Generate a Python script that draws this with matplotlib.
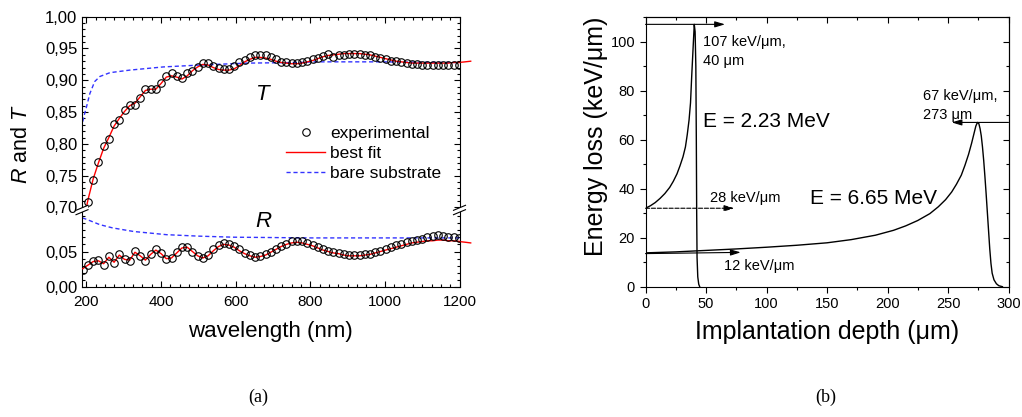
import numpy as np
import matplotlib
matplotlib.use("Agg")
import matplotlib.pyplot as plt
from matplotlib.ticker import MultipleLocator, FixedLocator, FuncFormatter
from matplotlib.lines import Line2D
from matplotlib.patches import Polygon

plt.rcParams['font.family'] = ['Liberation Sans', 'DejaVu Sans']
plt.rcParams['mathtext.fontset'] = 'custom'
plt.rcParams['mathtext.rm'] = 'Liberation Sans'
plt.rcParams['mathtext.it'] = 'Liberation Sans:italic'

# ---------------- data: panel (a) ----------------
wavelength = [190, 204, 218, 232, 246, 260, 274, 288, 302, 316, 330, 344, 358, 372,
              386, 400, 414, 428, 442, 456, 470, 484, 498, 512, 526, 540, 554, 568,
              582, 596, 610, 624, 638, 652, 666, 680, 694, 708, 722, 736, 750, 764,
              778, 792, 806, 820, 834, 848, 862, 876, 890, 904, 918, 932, 946, 960,
              974, 988, 1002, 1016, 1030, 1044, 1058, 1072, 1086, 1100, 1114, 1128,
              1142, 1156, 1170, 1184, 1198]
T_exp = [0.660, 0.708, 0.743, 0.771, 0.796, 0.808, 0.832, 0.838, 0.853, 0.861, 0.861,
         0.872, 0.887, 0.887, 0.887, 0.896, 0.907, 0.911, 0.907, 0.904, 0.911, 0.915,
         0.921, 0.927, 0.927, 0.922, 0.919, 0.917, 0.917, 0.922, 0.928, 0.932, 0.937,
         0.939, 0.939, 0.939, 0.936, 0.933, 0.929, 0.928, 0.927, 0.927, 0.928, 0.930,
         0.933, 0.935, 0.938, 0.941, 0.936, 0.939, 0.940, 0.941, 0.941, 0.941, 0.940,
         0.939, 0.937, 0.935, 0.933, 0.931, 0.930, 0.928, 0.927, 0.926, 0.925, 0.924,
         0.924, 0.924, 0.924, 0.924, 0.924, 0.924, 0.924]
R_exp = [0.024, 0.031, 0.037, 0.038, 0.031, 0.044, 0.034, 0.046, 0.039, 0.037, 0.051,
         0.044, 0.037, 0.047, 0.054, 0.048, 0.040, 0.041, 0.049, 0.057, 0.057, 0.050,
         0.044, 0.041, 0.045, 0.053, 0.059, 0.062, 0.061, 0.058, 0.053, 0.048, 0.045,
         0.043, 0.044, 0.046, 0.050, 0.054, 0.058, 0.061, 0.064, 0.065, 0.064, 0.062,
         0.059, 0.056, 0.053, 0.051, 0.050, 0.048, 0.047, 0.045, 0.045, 0.045, 0.046,
         0.047, 0.049, 0.051, 0.053, 0.056, 0.059, 0.061, 0.063, 0.064, 0.066, 0.067,
         0.070, 0.071, 0.073, 0.071, 0.070, 0.070, 0.069]

fit_wavelength = wavelength + [1215, 1230]
T_fit = [0.672, 0.712, 0.745, 0.770, 0.793, 0.810, 0.828, 0.840, 0.851, 0.860, 0.864,
         0.874, 0.884, 0.886, 0.886, 0.895, 0.905, 0.907, 0.905, 0.902, 0.907, 0.915,
         0.921, 0.925, 0.924, 0.920, 0.917, 0.916, 0.916, 0.918, 0.923, 0.929, 0.933,
         0.936, 0.936, 0.935, 0.933, 0.930, 0.928, 0.927, 0.926, 0.926, 0.927, 0.929,
         0.931, 0.934, 0.937, 0.939, 0.940, 0.941, 0.942, 0.942, 0.942, 0.942, 0.941,
         0.940, 0.938, 0.936, 0.934, 0.932, 0.930, 0.929, 0.928, 0.927, 0.927, 0.927,
         0.927, 0.927, 0.927, 0.927, 0.927, 0.928, 0.928, 0.929, 0.930]
R_fit = [0.026, 0.031, 0.036, 0.037, 0.033, 0.042, 0.035, 0.045, 0.039, 0.038, 0.049,
         0.044, 0.038, 0.046, 0.052, 0.047, 0.040, 0.041, 0.048, 0.055, 0.056, 0.050,
         0.044, 0.041, 0.044, 0.051, 0.057, 0.060, 0.059, 0.056, 0.051, 0.047, 0.044,
         0.042, 0.043, 0.045, 0.049, 0.053, 0.057, 0.060, 0.062, 0.063, 0.062, 0.060,
         0.058, 0.055, 0.052, 0.050, 0.048, 0.047, 0.045, 0.044, 0.044, 0.044, 0.045,
         0.046, 0.048, 0.050, 0.052, 0.054, 0.056, 0.058, 0.060, 0.062, 0.063, 0.064,
         0.065, 0.065, 0.066, 0.066, 0.065, 0.065, 0.064, 0.063, 0.062]

bare_T_wavelength = [190, 193, 200, 209, 222, 236, 263, 316, 406, 505, 630, 773, 809,
                     988, 1167, 1200]
bare_T = [0.835, 0.843, 0.858, 0.879, 0.898, 0.906, 0.912, 0.916, 0.921, 0.924, 0.927,
          0.928, 0.929, 0.929, 0.928, 0.928]
bare_R_wavelength = [189, 200, 236, 270, 326, 415, 500, 594, 700, 800, 900, 1000, 1100,
                     1200]
bare_R = [0.097, 0.095, 0.0875, 0.083, 0.078, 0.0735, 0.0715, 0.070, 0.0695, 0.069,
          0.069, 0.069, 0.069, 0.069]

# ---------------- data: panel (b) ----------------
depth_223 = [0, 4, 8, 12, 16, 20, 23, 26, 28.5, 31, 33, 34.5, 36, 37.2, 38.2, 39.3,
             40.3, 41.0, 41.6, 42.0, 42.3, 42.6, 43.2, 44.0, 44.8]
loss_223 = [32, 33, 34.3, 36, 38, 40.5, 43, 46, 49.3, 53, 57, 62, 68, 75, 86, 97,
            107, 104, 90, 60, 30, 12, 4, 1, 0]
depth_665 = [0, 25, 50, 75, 100, 125, 150, 170, 190, 205, 215, 225, 235, 242, 248, 253,
             257, 261, 264, 267, 269.5, 271.5, 273, 274.3, 275.5, 276.5, 277.5, 278.5,
             279.5, 280.5, 281.5, 282.5, 283.5, 284.5, 285.5, 286.5, 288, 290, 292, 295]
loss_665 = [13.8, 14.2, 14.8, 15.4, 16.1, 16.9, 17.9, 19.2, 21, 23, 24.8, 27, 29.8,
            32.6, 35.5, 38.6, 41.8, 45.5, 49.5, 54, 58.5, 62.5, 65.5, 67, 66.5, 64.5,
            61.5, 57, 51.5, 45, 38, 30.5, 23, 15.5, 9.5, 5.5, 2.8, 1.2, 0.4, 0]

W, H = 1022, 417
fig = plt.figure(figsize=(W / 100, H / 100), dpi=100)


def fx(px):
    return px / W


def fy(py):
    return 1 - py / H


# axes geometry (pixels, from top-left)
L0, L1 = 82, 459.5
top_y0, brk_y, bot_y1 = 16.7, 210, 287.3
axT = fig.add_axes([fx(L0), fy(brk_y), fx(L1) - fx(L0), fy(top_y0) - fy(brk_y)])
axB = fig.add_axes([fx(L0), fy(bot_y1), fx(L1) - fx(L0), fy(brk_y) - fy(bot_y1)])

wl = np.array(wavelength)
fwl = np.array(fit_wavelength)
Tf = np.array(T_fit)
Rf = np.array(R_fit)

for ax in (axT, axB):
    ax.plot(bare_T_wavelength if ax is axT else bare_R_wavelength,
            bare_T if ax is axT else bare_R,
            color='#3333ff', lw=1.0, ls=(0, (3, 2)), zorder=2)
    ax.plot(fwl, Tf if ax is axT else Rf, color='#ff0000', lw=1.0, zorder=3)
    ext = fwl >= 1198
    ax.plot(fwl[ext], (Tf if ax is axT else Rf)[ext], color='#ff0000', lw=1.0,
            zorder=3, clip_on=False)
    ax.plot(wl, T_exp if ax is axT else R_exp, ls='none', marker='o', ms=5.4,
            mfc='none', mec='black', mew=0.8, zorder=4)
    ax.set_xlim(188, 1200)
    ax.xaxis.set_major_locator(MultipleLocator(200))
    ax.xaxis.set_minor_locator(MultipleLocator(25))
    ax.tick_params(which='both', direction='in', left=True, right=True,
                   labelsize=12, width=0.8, pad=3.4)
    ax.tick_params(which='major', length=4)
    ax.tick_params(which='minor', length=2)
    for s in ax.spines.values():
        s.set_linewidth(0.8)

axT.set_ylim(0.696, 1.0)
axT.yaxis.set_major_locator(MultipleLocator(0.05))
axT.yaxis.set_minor_locator(MultipleLocator(0.01))
axT.spines['bottom'].set_visible(False)
axT.tick_params(axis='x', which='both', bottom=False, top=True, labelbottom=False)

axB.set_ylim(0.0, 0.108)
axB.yaxis.set_major_locator(FixedLocator([0.0, 0.05]))
axB.yaxis.set_minor_locator(MultipleLocator(0.01))
axB.spines['top'].set_visible(False)
axB.tick_params(axis='x', which='both', bottom=True, top=False, labelsize=11, pad=5.5)

comma = FuncFormatter(lambda v, p: f"{v:.2f}".replace('.', ','))
axT.yaxis.set_major_formatter(comma)
axB.yaxis.set_major_formatter(comma)

axT.text(674, 0.877, 'T', fontsize=16, style='italic', ha='center', va='center')
axB.text(674, 0.092, 'R', fontsize=16, style='italic', ha='center', va='center')

handles = [Line2D([], [], ls='none', marker='o', ms=5.4, mfc='none', mec='black', mew=0.8),
           Line2D([], [], color='#ff0000', lw=1.0),
           Line2D([], [], color='#3333ff', lw=1.0, ls=(0, (3, 2)))]
axT.legend(handles, ['experimental', 'best fit', 'bare substrate'], loc='upper left',
           bbox_to_anchor=((286 - L0) / (L1 - L0), 1 - (126 - top_y0) / (brk_y - top_y0)),
           frameon=False, fontsize=12.5, borderpad=0, borderaxespad=0,
           handlelength=2.25, handletextpad=0.3, labelspacing=0.27, numpoints=1)

# break marks
for bx in (L0, L1):
    for dy in (-2.2, 2.2):
        y = brk_y + dy
        fig.add_artist(Line2D([fx(bx - 6), fx(bx + 6)], [fy(y + 2.5), fy(y - 2.5)],
                              color='black', lw=0.8))
    fig.add_artist(Polygon([[fx(bx - 6), fy(brk_y - 2.2 + 2.5)], [fx(bx + 6), fy(brk_y - 2.2 - 2.5)],
                            [fx(bx + 6), fy(brk_y + 2.2 - 2.5)], [fx(bx - 6), fy(brk_y + 2.2 + 2.5)]],
                           closed=True, facecolor='white', edgecolor='none', zorder=0.5))

fig.text(fx(21.7), fy(144), r'$R$ and $T$', rotation=90, ha='center', va='center',
         fontsize=15.5)
fig.text(fx(270.7), fy(331.7), 'wavelength (nm)', ha='center', va='center', fontsize=16)

# ---------------- panel (b) ----------------
R0, R1 = 645.5, 1008.5
ax2 = fig.add_axes([fx(R0), fy(286.7), fx(R1) - fx(R0), fy(17) - fy(286.7)])
ax2.plot(depth_223, loss_223, color='black', lw=1.0)
ax2.plot(depth_665, loss_665, color='black', lw=1.0)
ax2.set_xlim(0, 300)
ax2.set_ylim(0, 110)
ax2.xaxis.set_major_locator(MultipleLocator(50))
ax2.xaxis.set_minor_locator(MultipleLocator(25))
ax2.yaxis.set_major_locator(MultipleLocator(20))
ax2.yaxis.set_minor_locator(MultipleLocator(10))
ax2.tick_params(which='both', direction='out', labelsize=10.5, width=0.8, pad=3.5)
ax2.tick_params(which='major', length=4)
ax2.tick_params(which='minor', length=2)
for s in ax2.spines.values():
    s.set_linewidth(0.8)
sec_x = ax2.secondary_xaxis('top')
sec_x.xaxis.set_major_locator(MultipleLocator(50))
sec_x.xaxis.set_minor_locator(MultipleLocator(25))
sec_x.tick_params(which='both', direction='in', labeltop=False, width=0.8)
sec_x.tick_params(which='major', length=4)
sec_x.tick_params(which='minor', length=2)
sec_y = ax2.secondary_yaxis('right')
sec_y.yaxis.set_major_locator(MultipleLocator(20))
sec_y.yaxis.set_minor_locator(MultipleLocator(10))
sec_y.tick_params(which='both', direction='in', labelright=False, width=0.8)
sec_y.tick_params(which='major', length=4)
sec_y.tick_params(which='minor', length=2)


def arrow(x0, y0, x1, y1, ls='-'):
    ax2.annotate('', xy=(x1, y1), xytext=(x0, y0),
                 arrowprops=dict(arrowstyle='-|>,head_length=0.6,head_width=0.18',
                                 color='black', lw=0.8, ls=ls, shrinkA=0, shrinkB=0,
                                 mutation_scale=10))


arrow(0, 107, 65.7, 107)
arrow(0, 32, 73.4, 32, ls='--')
arrow(0, 13.5, 78.7, 14)
arrow(300, 67, 253, 67)

ax2.text(47.3, 100, '107 keV/μm,', fontsize=10.5, ha='left', va='center')
ax2.text(47.3, 92, '40 μm', fontsize=10.5, ha='left', va='center')
ax2.text(47.3, 67.3, 'E = 2.23 MeV', fontsize=15, ha='left', va='center')
ax2.text(53.3, 36, '28 keV/μm', fontsize=10.5, ha='left', va='center')
ax2.text(135.9, 36, 'E = 6.65 MeV', fontsize=15, ha='left', va='center')
ax2.text(64.9, 8.4, '12 keV/μm', fontsize=10.5, ha='left', va='center')
ax2.text(229.6, 77.6, '67 keV/μm,', fontsize=10.5, ha='left', va='center')
ax2.text(229.6, 70.1, '273 μm', fontsize=10.5, ha='left', va='center')

fig.text(fx(596), fy(136), 'Energy loss (keV/μm)', rotation=90, ha='center',
         va='center', fontsize=18)
fig.text(fx(827), fy(331.7), 'Implantation depth (μm)', ha='center', va='center',
         fontsize=18)

fig.text(fx(258), fy(397), '(a)', ha='center', va='center', fontsize=13,
         family='Liberation Serif')
fig.text(fx(826), fy(397), '(b)', ha='center', va='center', fontsize=13,
         family='Liberation Serif')

fig.savefig('out.png', dpi=100)
